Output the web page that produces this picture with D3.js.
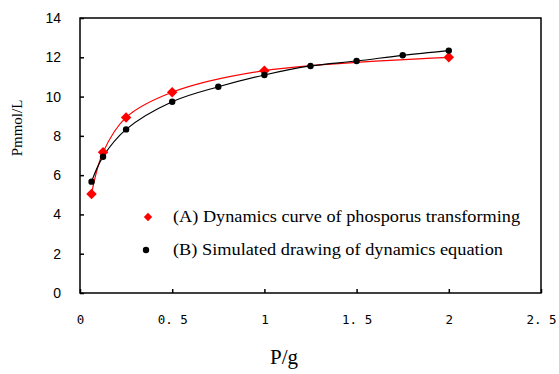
<!DOCTYPE html>
<html><head><meta charset="utf-8">
<script src="https://cdn.jsdelivr.net/npm/d3@7"></script>
<style>body{margin:0;background:#fff}svg{display:block}</style>
</head><body>
<svg id="c" width="559" height="374"></svg>
<script>
const xA = [0.0625, 0.125, 0.25, 0.5, 1, 2];
const yA = [5.04, 7.16, 8.94, 10.22, 11.32, 12.0];
const xB = [0.0625, 0.125, 0.25, 0.5, 0.75, 1, 1.25, 1.5, 1.75, 2];
const yB = [5.67, 6.94, 8.33, 9.74, 10.5, 11.1, 11.56, 11.81, 12.1, 12.34];
const xTicks = [0, 0.5, 1, 1.5, 2, 2.5];
const yTicks = [0, 2, 4, 6, 8, 10, 12, 14];
const legendLabels = ["(A) Dynamics curve of phosporus transforming", "(B) Simulated drawing of dynamics equation"];

const svg = d3.select("#c");
const L = 80, R = 541, T = 18, B = 293;
const x = d3.scaleLinear().domain([0, 2.5]).range([L, R]);
const y = d3.scaleLinear().domain([0, 14]).range([B, T]);

svg.append("rect").attr("x", L).attr("y", T).attr("width", R - L).attr("height", B - T)
  .attr("fill", "none").attr("stroke", "#000").attr("stroke-width", 1.5);

const fmt = d => String(d).replace(".", ". ");
const xa = svg.append("g").attr("transform", `translate(0,${B})`)
  .call(d3.axisBottom(x).tickValues(xTicks).tickSize(-4).tickPadding(22).tickFormat(fmt));
const ya = svg.append("g").attr("transform", `translate(${L},0)`)
  .call(d3.axisLeft(y).tickValues(yTicks).tickSize(-4).tickPadding(19));
[xa, ya].forEach(a => {
  a.select(".domain").remove();
  a.selectAll("line").attr("stroke", "#000").attr("stroke-width", 1.5);
  a.selectAll("text").attr("font-family", "'Liberation Sans', Arial, sans-serif").attr("font-size", 14).attr("fill", "#000");
});
xa.selectAll("text").attr("font-family", "'DejaVu Sans Mono', monospace").attr("font-size", 12.5);

const line = d3.line().x(d => x(d[0])).y(d => y(d[1])).curve(d3.curveCatmullRom.alpha(0.5));
const dA = xA.map((v, i) => [v, yA[i]]);
const dB = xB.map((v, i) => [v, yB[i]]);
svg.append("path").attr("d", line(dA)).attr("fill", "none").attr("stroke", "#ff0000").attr("stroke-width", 1.2);
svg.append("path").attr("d", line(dB)).attr("fill", "none").attr("stroke", "#000").attr("stroke-width", 1.2);

const diamond = d3.symbol().type(d3.symbolDiamond2).size(70);
svg.selectAll(".pa").data(dA).join("path")
  .attr("d", diamond).attr("transform", d => `translate(${x(d[0])},${y(d[1])})`).attr("fill", "#ff0000");
svg.selectAll(".pb").data(dB).join("circle")
  .attr("cx", d => x(d[0])).attr("cy", d => y(d[1])).attr("r", 3.2).attr("fill", "#000");

// legend
svg.append("path").attr("d", d3.symbol().type(d3.symbolDiamond2).size(45))
  .attr("transform", "translate(148,217)").attr("fill", "#ff0000");
svg.append("circle").attr("cx", 146).attr("cy", 250).attr("r", 3.2).attr("fill", "#000");
legendLabels.forEach((t, i) => {
  svg.append("text").attr("x", 173).attr("y", 222 + i * 33).text(t)
    .attr("font-family", "'Liberation Serif', serif").attr("font-size", 16.5)
    .attr("textLength", i === 0 ? 347 : 330).attr("lengthAdjust", "spacingAndGlyphs");
});

svg.append("text").attr("transform", "translate(22,128) rotate(-90)").attr("text-anchor", "middle")
  .attr("font-family", "'Liberation Serif', serif").attr("font-size", 15).text("Pmmol/L");
svg.append("text").attr("x", 284).attr("y", 364).attr("text-anchor", "middle")
  .attr("font-family", "'Liberation Serif', serif").attr("font-size", 21).text("P/g");
</script>
</body></html>
